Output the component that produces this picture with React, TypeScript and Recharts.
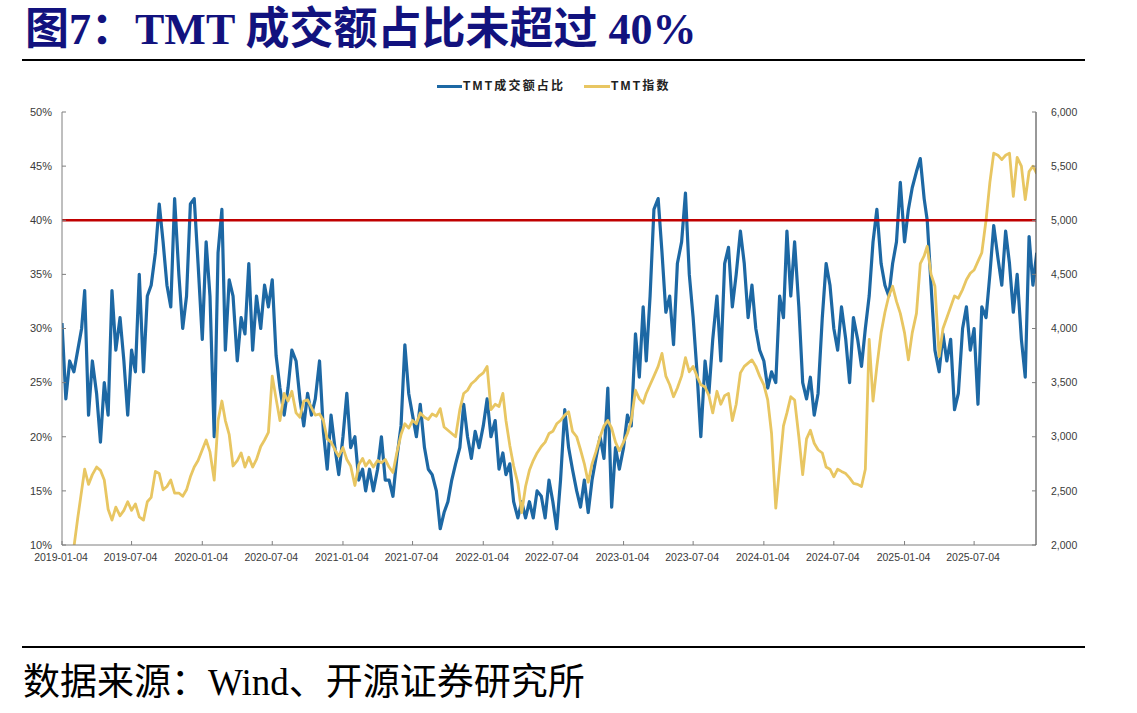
import React from 'react';
import { LineChart, Line, XAxis, YAxis, ReferenceLine } from 'recharts';

// ---------- data ----------
const years = [2019, 2020, 2021, 2022, 2023, 2024, 2025];
const dayOfMonth = [4, 14, 24];

const tickDates = [
  '2019-01-04', '2019-07-04', '2020-01-04', '2020-07-04', '2021-01-04', '2021-07-04', '2022-01-04',
  '2022-07-04', '2023-01-04', '2023-07-04', '2024-01-04', '2024-07-04', '2025-01-04', '2025-07-04',
];
const leftTicks = [10, 15, 20, 25, 30, 35, 40, 45, 50];
const rightTicks = [2000, 2500, 3000, 3500, 4000, 4500, 5000, 5500, 6000];
const threshold = 40;

// TMT成交额占比 (%), three readings per month (4th, 14th, 24th)
const share2019 = [30.5, 23.5, 27, 26, 28, 30, 33.5, 22, 27, 24, 19.5, 25, 22, 33.5, 28, 31, 27, 22, 28, 26, 35, 26, 33, 34, 37, 41.5, 38, 34, 32, 42, 35, 30, 33, 41.5, 42, 36];
const share2020 = [29, 38, 33, 20, 37, 41, 28, 34.5, 33, 27, 31, 29.5, 36, 28, 33, 30, 34, 32, 34.5, 27.5, 24.5, 22, 24.5, 28, 27, 23.5, 21, 24, 22, 23.5, 27, 20.5, 17, 22, 19, 16.5];
const share2021 = [20, 24, 19, 20, 16, 17, 15, 17, 15, 17, 20, 16, 16, 14.5, 18, 21, 28.5, 24, 22, 20, 23, 19, 17, 16.5, 15, 11.5, 13, 14, 16, 17.5, 19, 23, 20, 18, 20.5, 19];
const share2022 = [21, 23.5, 20, 21.5, 17, 18.5, 16.5, 17.5, 14, 12.5, 14, 12.5, 14, 12.5, 15, 14.5, 12.5, 16, 14, 11.5, 16, 22.5, 19, 17, 15, 13.5, 16, 13, 16, 18, 20, 18, 24.5, 13.5, 19, 17];
const share2023 = [19, 22, 21, 29.5, 25.5, 32, 27, 33, 41, 42, 37, 31.5, 33, 28.5, 36, 38, 42.5, 35, 31, 26, 20, 27, 24, 29, 33, 27, 36, 37.5, 32, 35, 39, 36, 31, 34, 30, 28];
const share2024 = [27, 24.5, 26, 25, 33, 31, 39, 33, 38, 32, 25, 23.5, 25.5, 22, 24, 31, 36, 34, 30, 28, 32, 29, 25, 31, 29, 26.5, 30, 33, 38, 41, 36, 34, 33, 36, 38, 43.5];
const share2025 = [38, 41, 43, 44.5, 45.7, 42, 40, 34, 28, 26, 29.5, 27, 29, 22.5, 24, 30, 32, 28, 30, 23, 32, 31, 35, 39.5, 36.5, 34, 39, 36, 31.5, 35, 29, 25.5, 38.5, 34, 37];

// TMT指数, same dates
const index2019 = [1850, 1880, 1920, 1980, 2250, 2500, 2700, 2560, 2650, 2720, 2690, 2600, 2330, 2230, 2350, 2270, 2320, 2400, 2320, 2380, 2260, 2230, 2400, 2440, 2680, 2660, 2510, 2540, 2600, 2480, 2480, 2450, 2510, 2630, 2720, 2780];
const index2020 = [2880, 2970, 2860, 2600, 3150, 3330, 3150, 3020, 2730, 2780, 2850, 2720, 2810, 2720, 2790, 2910, 2970, 3040, 3560, 3350, 3150, 3400, 3330, 3420, 3220, 3180, 3330, 3340, 3270, 3200, 3210, 3150, 2980, 2950, 2880, 2820];
const index2021 = [2900, 2790, 2730, 2550, 2740, 2800, 2730, 2780, 2720, 2780, 2760, 2790, 2720, 2670, 2850, 3020, 3120, 3080, 3150, 3120, 3220, 3180, 3160, 3210, 3190, 3260, 3090, 3060, 3030, 3000, 3250, 3400, 3430, 3490, 3520, 3560];
const index2022 = [3590, 3650, 3250, 3300, 3280, 3400, 3150, 2920, 2730, 2570, 2300, 2540, 2690, 2780, 2850, 2910, 2950, 3030, 3050, 3120, 3150, 3200, 3230, 3050, 3000, 2880, 2750, 2580, 2750, 2860, 3000, 3100, 3150, 3080, 2950, 2870];
const index2023 = [2950, 3030, 3150, 3430, 3350, 3310, 3400, 3480, 3560, 3650, 3770, 3560, 3480, 3370, 3450, 3560, 3730, 3600, 3650, 3560, 3480, 3460, 3380, 3220, 3420, 3300, 3380, 3400, 3150, 3300, 3590, 3650, 3680, 3710, 3650, 3560];
const index2024 = [3480, 3340, 3030, 2340, 2720, 3100, 3220, 3370, 3340, 3000, 2650, 2980, 3060, 2940, 2880, 2850, 2720, 2700, 2630, 2700, 2680, 2660, 2620, 2570, 2560, 2540, 2700, 3900, 3330, 3650, 3960, 4150, 4300, 4390, 4250, 4140];
const index2025 = [3960, 3710, 3960, 4140, 4600, 4670, 4760, 4500, 4390, 3740, 4000, 4100, 4200, 4300, 4280, 4360, 4450, 4510, 4540, 4620, 4700, 5000, 5350, 5620, 5600, 5560, 5600, 5620, 5220, 5580, 5500, 5190, 5450, 5500, 5430];

const shareByYear = [share2019, share2020, share2021, share2022, share2023, share2024, share2025];
const indexByYear = [index2019, index2020, index2021, index2022, index2023, index2024, index2025];

const toT = (s: string) => Date.parse(s + 'T00:00:00Z');

const data: { t: number; share: number; index: number }[] = [];
years.forEach((yr, yi) => {
  const s = shareByYear[yi];
  const ix = indexByYear[yi];
  for (let k = 0; k < s.length; k++) {
    data.push({ t: Date.UTC(yr, Math.floor(k / 3), dayOfMonth[k % 3]), share: s[k], index: ix[k] });
  }
});

const xStart = toT('2019-01-04');
const xEnd = toT('2025-12-12');

// ---------- styles ----------
const BLUE = '#1d68a4';
const GOLD = '#e8c662';
const RED = '#c00000';
const AXIS = '#7f7f7f';
const LABEL = '#3a3a3a';
const SANS = "'Liberation Sans', Arial, 'Noto Sans CJK SC', sans-serif";
const SERIF = "'Liberation Serif', 'Times New Roman', 'Noto Sans CJK SC', serif";

const fmtComma = (v: number) => {
  const s = String(Math.round(v));
  return s.length > 3 ? s.slice(0, s.length - 3) + ',' + s.slice(-3) : s;
};
const fmtDate = (t: number) => new Date(t).toISOString().slice(0, 10);

const LeftTick = (p: any) => (
  <g>
    <line x1={p.x} x2={p.x + 4} y1={p.y} y2={p.y} stroke={AXIS} strokeWidth={1} />
    <text x={p.x - 10} y={p.y} dy="0.35em" textAnchor="end" fontSize={11} fill={LABEL} fontFamily={SANS}>
      {p.payload.value}%
    </text>
  </g>
);
const RightTick = (p: any) => (
  <g>
    <line x1={p.x} x2={p.x - 4} y1={p.y} y2={p.y} stroke={AXIS} strokeWidth={1} />
    <text x={p.x + 15} y={p.y} dy="0.35em" textAnchor="start" fontSize={10.5} fill={LABEL} fontFamily={SANS}>
      {fmtComma(p.payload.value)}
    </text>
  </g>
);
const BottomTick = (p: any) => (
  <g>
    <line x1={p.x} x2={p.x} y1={p.y} y2={p.y - 4} stroke={AXIS} strokeWidth={1} />
    <text x={p.x - 1} y={p.y + 12} dy="0.35em" textAnchor="middle" fontSize={10.5} fill={LABEL} fontFamily={SANS}>
      {fmtDate(p.payload.value)}
    </text>
  </g>
);

export default function App() {
  return (
    <div style={{ position: 'absolute', left: 0, top: 0, width: 1137, height: 713, background: '#fff', overflow: 'hidden' }}>
      <div
        style={{
          position: 'absolute', left: 25, top: 6, fontSize: 44, fontWeight: 'bold', fontFamily: SERIF,
          color: '#12127e', whiteSpace: 'nowrap', lineHeight: '48px',
        }}
      >
        图7：TMT 成交额占比未超过 40%
      </div>
      <div style={{ position: 'absolute', left: 22, top: 59, width: 1063, height: 2, background: '#000' }} />

      {/* legend */}
      <div style={{ position: 'absolute', left: 437, top: 85, width: 25, height: 3, background: BLUE }} />
      <div style={{ position: 'absolute', left: 463, top: 78, fontSize: 12, fontWeight: 'bold', fontFamily: SANS, color: '#222', letterSpacing: 2.2, whiteSpace: 'nowrap', lineHeight: '16px' }}>
        TMT成交额占比
      </div>
      <div style={{ position: 'absolute', left: 584, top: 85, width: 26, height: 3, background: GOLD }} />
      <div style={{ position: 'absolute', left: 611, top: 78, fontSize: 12, fontWeight: 'bold', fontFamily: SANS, color: '#222', letterSpacing: 2.2, whiteSpace: 'nowrap', lineHeight: '16px' }}>
        TMT指数
      </div>

      <div style={{ position: 'absolute', left: 0, top: 0 }}>
        <LineChart width={1137} height={600} data={data} margin={{ top: 112, left: 12, right: 51, bottom: 25 }}>
          <XAxis
            dataKey="t" type="number" scale="linear" domain={[xStart, xEnd]} allowDataOverflow
            ticks={tickDates.map(toT)} interval={0} height={30}
            tickLine={false} tickSize={0} tickMargin={0} tick={<BottomTick />}
            axisLine={{ stroke: AXIS, strokeWidth: 1 }}
          />
          <YAxis
            yAxisId="left" orientation="left" domain={[10, 50]} ticks={leftTicks} interval={0} width={50}
            tickLine={false} tickSize={0} tickMargin={0} tick={<LeftTick />}
            axisLine={{ stroke: AXIS, strokeWidth: 1 }}
          />
          <YAxis
            yAxisId="right" orientation="right" domain={[2000, 6000]} allowDataOverflow ticks={rightTicks} interval={0} width={50}
            tickLine={false} tickSize={0} tickMargin={0} tick={<RightTick />}
            axisLine={{ stroke: '#333', strokeWidth: 1 }}
          />
          <Line yAxisId="left" dataKey="share" stroke={BLUE} strokeWidth={3.2} dot={false} isAnimationActive={false} strokeLinejoin="round" />
          <Line yAxisId="right" dataKey="index" stroke={GOLD} strokeWidth={2.8} dot={false} isAnimationActive={false} strokeLinejoin="round" />
          <ReferenceLine yAxisId="left" y={threshold} stroke={RED} strokeWidth={2.5} />
        </LineChart>
      </div>

      <div style={{ position: 'absolute', left: 22, top: 646, width: 1063, height: 2, background: '#000' }} />
      <div style={{ position: 'absolute', left: 23, top: 661, fontSize: 37, fontFamily: SERIF, color: '#000', whiteSpace: 'nowrap', lineHeight: '44px' }}>
        数据来源：Wind、开源证券研究所
      </div>
    </div>
  );
}
